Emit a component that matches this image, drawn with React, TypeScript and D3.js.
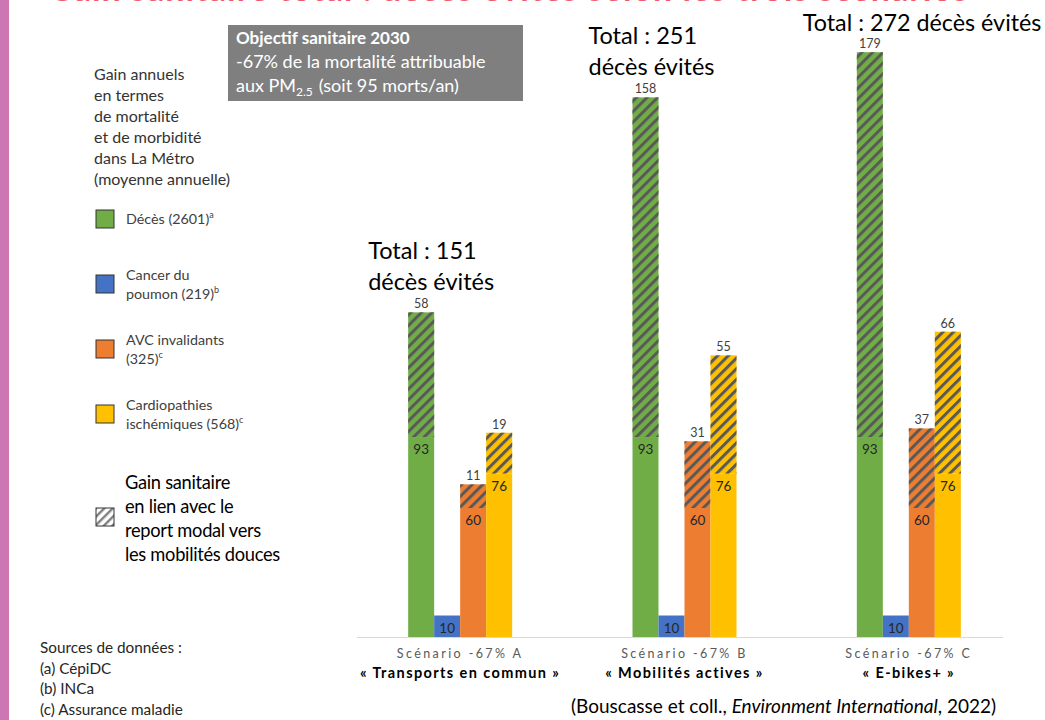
import React from "react";
import * as d3 from "d3";

const scenarios = ["A", "B", "C"];
const scenarioLabels = ["Scénario -67% A", "Scénario -67% B", "Scénario -67% C"];
const scenarioNames = ["«  Transports en commun »", "« Mobilités actives »", "« E-bikes+ »"];
const totals = [151, 251, 272];

const series = ["deces", "cancer", "avc", "cardio"];
const seriesColors = ["#70ad47", "#4472c4", "#ed7d31", "#ffc000"];
// base (solid) and modal-shift (hatched) values per series, per scenario
const decesBase = [93, 93, 93];
const decesModal = [58, 158, 179];
const cancerBase = [10, 10, 10];
const cancerModal = [0, 0, 0];
const avcBase = [60, 60, 60];
const avcModal = [11, 31, 37];
const cardioBase = [76, 76, 76];
const cardioModal = [19, 55, 66];

const baseValues = [decesBase, cancerBase, avcBase, cardioBase];
const modalValues = [decesModal, cancerModal, avcModal, cardioModal];

const legendItems = [
  ["Décès (2601)", "a"],
  ["Cancer du|poumon (219)", "b"],
  ["AVC invalidants|(325)", "c"],
  ["Cardiopathies|ischémiques (568)", "c"],
];
const headerLines = ["Gain annuels", "en termes", "de mortalité", "et de morbidité", "dans La Métro", "(moyenne annuelle)"];
const hatchLegendLines = ["Gain sanitaire", "en lien avec le", "report modal vers", "les mobilités douces"];
const sourceLines = ["Sources de données :", "(a) CépiDC", "(b) INCa", "(c) Assurance maladie"];

const FONT = "Lato, 'Open Sans', sans-serif";

export default function App() {
  const W = 1045, H = 720;
  const x = d3.scaleBand().domain(scenarios).range([348, 1021]).paddingInner(0).paddingOuter(0);
  const sub = d3.scaleBand().domain(series).range([-52, 52]).padding(0);
  const y = d3.scaleLinear().domain([0, 280]).range([637, 35]);

  const bars: any[] = [];
  scenarios.forEach((sc, i) => {
    const cx = (x(sc) as number) + x.bandwidth() / 2;
    series.forEach((s, j) => {
      const bx = cx + (sub(s) as number);
      const bw = sub.bandwidth();
      const b = baseValues[j][i];
      const m = modalValues[j][i];
      const yb = y(b);
      const yt = y(b + m);
      bars.push(
        <g key={sc + s}>
          <rect x={bx} y={yb} width={bw} height={y(0) - yb} fill={seriesColors[j]} />
          {m > 0 && (
            <>
              <rect x={bx} y={yt} width={bw} height={yb - yt} fill={seriesColors[j]} />
              <rect x={bx} y={yt} width={bw} height={yb - yt} fill="url(#hatch)" />
              <text x={bx + bw / 2} y={yt - 4} textAnchor="middle" fontSize={12.5} fill="#404040">{m}</text>
            </>
          )}
          <text x={bx + bw / 2} y={yb + 17} textAnchor="middle" fontSize={13.5} fill="#262626">{b}</text>
        </g>
      );
    });
  });

  return (
    <svg width={W} height={H} style={{ position: "absolute", left: 0, top: 0, background: "#fff" }} fontFamily={FONT}>
      <defs>
        <pattern id="hatch" patternUnits="userSpaceOnUse" width={7.5} height={7.5} patternTransform="rotate(45)">
          <rect x={0} y={0} width={3} height={7.5} fill="#595959" />
        </pattern>
        <pattern id="hatchL" patternUnits="userSpaceOnUse" width={6} height={6} patternTransform="rotate(45)">
          <rect x={0} y={0} width={2.4} height={6} fill="#7f7f7f" />
        </pattern>
      </defs>
      <rect x={0} y={0} width={W} height={H} fill="#fff" />
      <rect x={0} y={0} width={9} height={H} fill="#cc77b4" />
      <text x={48} y={1} fontSize={34} fontWeight="bold" fill="#ef5b6c" textLength={920} lengthAdjust="spacing">
        Gain sanitaire total : décès évités selon les trois scénarios
      </text>

      {/* objective box */}
      <rect x={228} y={25} width={295} height={76} fill="#7f7f7f" />
      <text x={236} y={44} fontSize={17} fontWeight="bold" fill="#fff">Objectif sanitaire 2030</text>
      <text x={236} y={68} fontSize={18} fill="#fff">-67% de la mortalité attribuable</text>
      <text x={236} y={92} fontSize={18} fill="#fff">
        aux PM<tspan fontSize={12} dy={4}>2.5</tspan><tspan dy={-4} dx={6}>(soit 95 morts/an)</tspan>
      </text>

      {/* left legend */}
      {headerLines.map((l, i) => (
        <text key={l} x={94} y={80 + i * 21} fontSize={16} fill="#333">{l}</text>
      ))}
      {legendItems.map(([label, sup], i) => {
        const ly = 210 + i * 65;
        const lines = label.split("|");
        return (
          <g key={i}>
            <rect x={96} y={ly} width={18} height={18} fill={seriesColors[i]} stroke="#333" strokeWidth={1} />
            {lines.map((ln, k) => (
              <text key={k} x={126} y={lines.length === 1 ? ly + 14 : ly + 5 + k * 19} fontSize={14.3} fill="#404040">
                {ln}
                {k === lines.length - 1 && <tspan fontSize={9} dy={-6}>{sup}</tspan>}
              </text>
            ))}
          </g>
        );
      })}
      <rect x={96} y={508} width={18} height={18} fill="#fff" />
      <rect x={96} y={508} width={18} height={18} fill="url(#hatchL)" stroke="#333" strokeWidth={1} />
      {hatchLegendLines.map((l, i) => (
        <text key={l} x={125} y={489 + i * 24} fontSize={18.3} fill="#000" letterSpacing={-0.3}>{l}</text>
      ))}

      {sourceLines.map((l, i) => (
        <text key={l} x={40} y={653 + i * 20.5} fontSize={15.3} fill="#262626">{l}</text>
      ))}

      {/* axis */}
      <line x1={357} x2={1003} y1={y(0) + 0.5} y2={y(0) + 0.5} stroke="#d9d9d9" strokeWidth={1} />
      {bars}
      {scenarios.map((sc, i) => {
        const cx = (x(sc) as number) + x.bandwidth() / 2;
        return (
          <g key={sc}>
            <text x={cx} y={658} textAnchor="middle" fontSize={12.5} letterSpacing={2.4} fill="#595959">{scenarioLabels[i]}</text>
            <text x={cx} y={678} textAnchor="middle" fontSize={14.5} fontWeight="bold" letterSpacing={1.4} fill="#000">{scenarioNames[i]}</text>
          </g>
        );
      })}

      {/* totals */}
      {scenarios.map((sc, i) => {
        const gx = (x(sc) as number) + x.bandwidth() / 2 + (sub("deces") as number);
        const ty = y(decesBase[i] + decesModal[i]);
        if (i === 2) {
          return <text key={sc} x={gx - 54} y={ty - 21} fontSize={23.3} fill="#000">Total : {totals[i]} décès évités</text>;
        }
        return (
          <g key={sc}>
            <text x={gx - 40 - i * 4} y={ty - 53} fontSize={23.5} fill="#000">Total : {totals[i]}</text>
            <text x={gx - 40 - i * 4} y={ty - 22} fontSize={23.5} fill="#000">décès évités</text>
          </g>
        );
      })}

      <text x={571} y={713} fontSize={19} fill="#000">
        (Bouscasse et coll., <tspan fontStyle="italic">Environment International</tspan>, 2022)
      </text>
    </svg>
  );
}
